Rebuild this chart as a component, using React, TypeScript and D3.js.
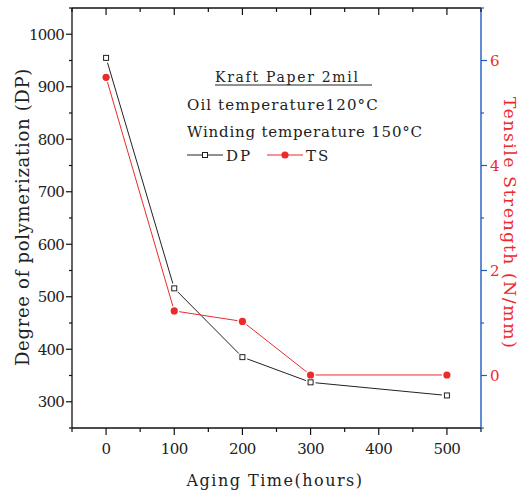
import React from "react";
import * as d3 from "d3";

const agingHours = [0, 100, 200, 300, 500];
const dpValues = [955, 516, 385, 337, 312];
const tsValues = [5.68, 1.23, 1.03, 0.01, 0.01];
const xMajorTicks = [0, 100, 200, 300, 400, 500];
const xMinorTicks = [-50, 50, 150, 250, 350, 450, 550];
const yLeftMajor = [300, 400, 500, 600, 700, 800, 900, 1000];
const yLeftMinor = [250, 350, 450, 550, 650, 750, 850, 950, 1050];
const yRightMajor = [0, 2, 4, 6];
const yRightMinor = [-1, 1, 3, 5, 7];

const W = 521;
const H = 495;
const L = 72, R = 481, T = 8, B = 428;
const RED = "#ec2a2c";
const BLUE = "#1d5cc0";
const FONT = "'DejaVu Serif', serif";

function gappedSegments(pts: [number, number][], gap: number) {
  const segs: string[] = [];
  for (let i = 0; i < pts.length - 1; i++) {
    const [x1, y1] = pts[i];
    const [x2, y2] = pts[i + 1];
    const dx = x2 - x1, dy = y2 - y1;
    const len = Math.hypot(dx, dy);
    const ux = dx / len, uy = dy / len;
    segs.push(`M${x1 + ux * gap},${y1 + uy * gap}L${x2 - ux * gap},${y2 - uy * gap}`);
  }
  return segs.join("");
}

export default function App() {
  const x = d3.scaleLinear().domain([-50, 550]).range([L, R]);
  const yL = d3.scaleLinear().domain([250, 1050]).range([B, T]);
  const yR = d3.scaleLinear().domain([-1, 7]).range([B, T]);

  const dpPts: [number, number][] = agingHours.map((h, i) => [x(h), yL(dpValues[i])]);
  const tsPts: [number, number][] = agingHours.map((h, i) => [x(h), yR(tsValues[i])]);

  return (
    <svg width={W} height={H} style={{ position: "absolute", left: 0, top: 0, background: "#fff", fontFamily: FONT }}>
      {/* frame */}
      <line x1={L} y1={T} x2={R} y2={T} stroke="#111" strokeWidth={1.3} />
      <line x1={L} y1={T} x2={L} y2={B} stroke="#111" strokeWidth={1.3} />
      <line x1={L} y1={B} x2={R} y2={B} stroke="#111" strokeWidth={1.3} />
      <line x1={R} y1={T} x2={R} y2={B + 1} stroke={BLUE} strokeWidth={1.4} />

      {/* bottom axis */}
      {xMajorTicks.map((t) => (
        <g key={"xb" + t}>
          <line x1={x(t)} x2={x(t)} y1={B} y2={B + 7} stroke="#111" strokeWidth={1.2} />
          <line x1={x(t)} x2={x(t)} y1={T} y2={T + 7} stroke="#111" strokeWidth={1.2} />
          <text x={x(t)} y={454} textAnchor="middle" fontSize={15} fill="#222" letterSpacing={-0.6}>{t}</text>
        </g>
      ))}
      {xMinorTicks.map((t) => (
        <g key={"xm" + t}>
          <line x1={x(t)} x2={x(t)} y1={B} y2={B + 4} stroke="#111" strokeWidth={1.2} />
          <line x1={x(t)} x2={x(t)} y1={T} y2={T + 4} stroke="#111" strokeWidth={1.2} />
        </g>
      ))}
      <text x={275} y={486} textAnchor="middle" fontSize={16} letterSpacing={1.5} fill="#222">Aging Time(hours)</text>

      {/* left axis */}
      {yLeftMajor.map((t) => (
        <g key={"yl" + t}>
          <line x1={L - 6} x2={L} y1={yL(t)} y2={yL(t)} stroke="#111" strokeWidth={1.2} />
          <text x={64} y={yL(t) + 5.5} textAnchor="end" fontSize={15} fill="#222" letterSpacing={-0.8}>{t}</text>
        </g>
      ))}
      {yLeftMinor.map((t) => (
        <line key={"ylm" + t} x1={L - 3} x2={L} y1={yL(t)} y2={yL(t)} stroke="#111" strokeWidth={1.2} />
      ))}
      <text transform={`translate(29,217) rotate(-90)`} textAnchor="middle" fontSize={18} fill="#222" letterSpacing={0.7}>
        Degree of polymerization (DP)
      </text>

      {/* right axis */}
      {yRightMajor.map((t) => (
        <g key={"yr" + t}>
          <line x1={R} x2={R + 6} y1={yR(t)} y2={yR(t)} stroke={BLUE} strokeWidth={1.2} />
          <text x={490} y={yR(t) + 5.5} textAnchor="start" fontSize={15} fill={RED}>{t}</text>
        </g>
      ))}
      {yRightMinor.map((t) => (
        <line key={"yrm" + t} x1={R} x2={R + 3} y1={yR(t)} y2={yR(t)} stroke={BLUE} strokeWidth={1.2} />
      ))}
      <text transform={`translate(504,223) rotate(90)`} textAnchor="middle" fontSize={17.5} fill={RED} letterSpacing={1.4}>
        Tensile Strength (N/mm)
      </text>

      {/* series */}
      <path d={gappedSegments(dpPts, 5)} fill="none" stroke="#222" strokeWidth={1} />
      <path d={gappedSegments(tsPts, 5)} fill="none" stroke={RED} strokeWidth={1} />
      {dpPts.map(([px, py], i) => (
        <rect key={"dp" + i} x={px - 2.5} y={py - 2.5} width={5} height={5} fill="#fff" stroke="#222" strokeWidth={1} />
      ))}
      {tsPts.map(([px, py], i) => (
        <circle key={"ts" + i} cx={px} cy={py} r={3.6} fill={RED} />
      ))}

      {/* annotation / legend */}
      <text x={215} y={82} fontSize={14} letterSpacing={1.7} fill="#222">Kraft Paper 2mil</text>
      <line x1={215} x2={372} y1={85} y2={85} stroke="#222" strokeWidth={1} />
      <text x={187} y={110} fontSize={15} letterSpacing={1.1} fill="#222">Oil temperature120°C</text>
      <text x={187} y={137} fontSize={15} letterSpacing={0.8} fill="#222">Winding temperature 150°C</text>
      <line x1={187} x2={202} y1={155} y2={155} stroke="#222" strokeWidth={1} />
      <line x1={208} x2={223} y1={155} y2={155} stroke="#222" strokeWidth={1} />
      <rect x={202.5} y={152.5} width={5} height={5} fill="#fff" stroke="#222" strokeWidth={1} />
      <text x={226} y={161} fontSize={15} letterSpacing={2} fill="#222">DP</text>
      <line x1={267} x2={303} y1={155} y2={155} stroke={RED} strokeWidth={1} />
      <circle cx={285} cy={155} r={3.6} fill={RED} />
      <text x={306} y={161} fontSize={15} letterSpacing={2} fill="#222">TS</text>
    </svg>
  );
}
